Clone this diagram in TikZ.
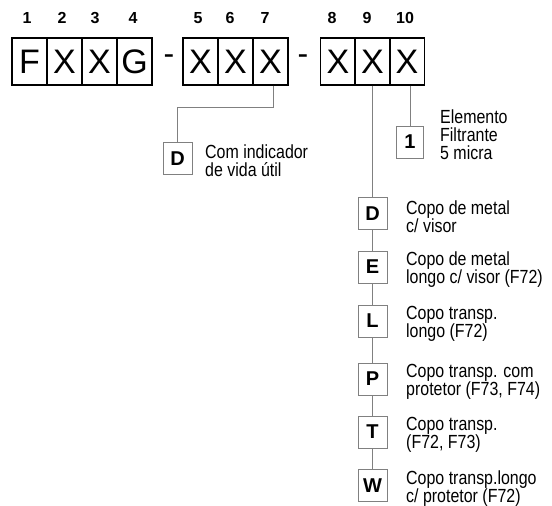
\documentclass[tikz,border=0pt]{standalone}
\usepackage{fontspec}
\setmainfont{Liberation Sans}
\newfontfamily\narrowsans[FakeStretch=0.84]{Liberation Sans}

\begin{document}
\begin{tikzpicture}[x=1pt,y=-1pt,
    digit/.style={draw,line width=1.4pt,minimum width=35pt,minimum height=47pt,inner sep=0pt,
      font=\fontsize{34}{34}\selectfont},
    place/.style={inner sep=0pt,font=\bfseries\fontsize{16}{16}\selectfont},
    optbox/.style={draw=gray,fill=white,minimum width=29pt,minimum height=32pt,inner sep=0pt,
      font=\bfseries\fontsize{20}{20}\selectfont},
    note/.style={anchor=west,align=left,inner sep=0pt,
      font=\narrowsans\fontsize{19}{18}\selectfont},
    link/.style={draw=gray,line width=0.9pt}]
  \useasboundingbox (0,0) rectangle (552,506);

  % code positions
  \def \Boxes {
    1/29.5/27/F,
    2/64.5/62/X,
    3/99.5/95/X,
    4/134.5/133/G,
    5/200.5/198/X,
    6/235.5/230/X,
    7/270.5/265/X,
    8/338/332/X,
    9/372.5/367/X,
    10/407/405/X}
  % cup options under position 9
  \def \Cups {
    D/213.5/{Copo de metal\\c/ visor},
    E/267/{Copo de metal\\longo c/ visor (F72)},
    L/321/{Copo transp.\\longo (F72)},
    P/379/{Copo transp. com\\protetor (F73, F74)},
    T/432/{Copo transp.\\(F72, F73)},
    W/485.5/{Copo transp.longo\\c/ protetor (F72)}}

  \foreach \id / \x / \nx / \w in \Boxes {
    \node[digit] (b\id) at (\x, 61.5) {\w};
    \node[place] (n\id) at (\nx, 18) {\id};
  }
  \node[font=\fontsize{32}{32}\selectfont,inner sep=0pt] (dash1) at (169, 60) {-};
  \node[font=\fontsize{32}{32}\selectfont,inner sep=0pt] (dash2) at (303, 60) {-};

  % position 7
  \node[optbox] (optD) at (177.5, 158.5) {D};
  \node[note] (txtD) at (205, 161) {Com indicador\\de vida útil};
  \coordinate (k7) at (273, 107);
  \draw[link] (k7 |- b7.south) -- (k7) -| (optD.north);

  % position 10
  \node[optbox,minimum width=27pt] (opt1) at (410, 142) {1};
  \node[note] (txt1) at (440, 135) {Elemento\\Filtrante\\5 micra};
  \draw[link] (opt1.north |- b10.south) -- (opt1.north);

  % position 9
  \foreach \id / \y / \txt in \Cups {
    \node[optbox] (c\id) at (372.5, \y) {\id};
    \node[note] (t\id) at (406, \y + 3) {\txt};
  }
  \foreach \a / \b in {b9/cD, cD/cE, cE/cL, cL/cP, cP/cT, cT/cW} {
    \path[link] (\a.south) -- (\b.north);
  }
\end{tikzpicture}
\end{document}
